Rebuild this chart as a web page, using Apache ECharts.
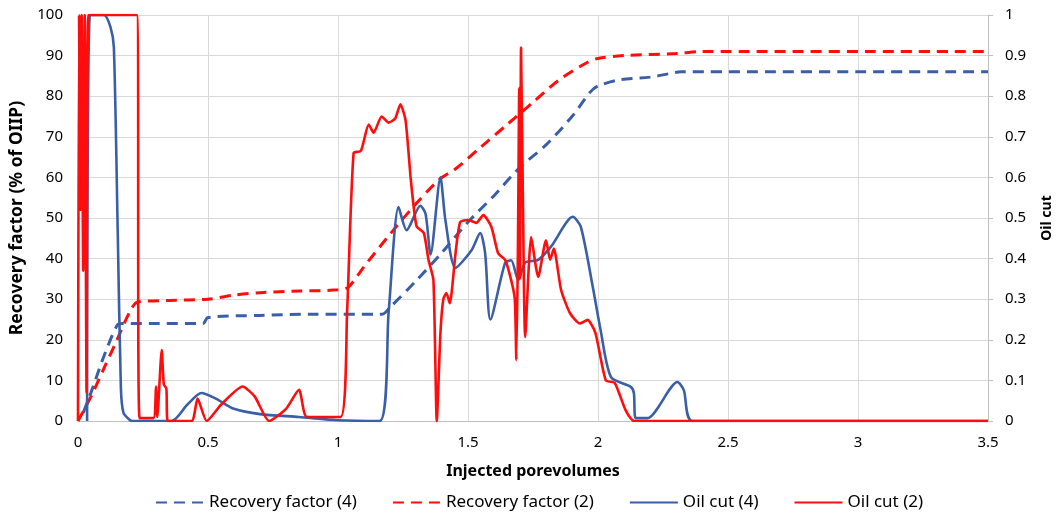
<!DOCTYPE html>
<html>
<head>
<meta charset="utf-8">
<script src="https://cdn.jsdelivr.net/npm/echarts@6/dist/echarts.min.js"></script>
<style>html,body{margin:0;padding:0;background:#fff}#c{width:1062px;height:517px}</style>
</head>
<body>
<div id="c"></div>
<script>
const xTicks = ["0","0.5","1","1.5","2","2.5","3","3.5"];
const leftTicks = ["0","10","20","30","40","50","60","70","80","90","100"];
const rightTicks = ["0","0.1","0.2","0.3","0.4","0.5","0.6","0.7","0.8","0.9","1"];
const seriesNames = ["Recovery factor (4)","Recovery factor (2)","Oil cut (4)","Oil cut (2)"];

const rf4 = [[0.02,2],[0.05,7],[0.1,16],[0.15,23.5],[0.17,24],[0.3,24],[0.48,24],[0.5,25.5],[0.7,26],[0.9,26.3],[1.17,26.3],[1.2,28],[1.3,34.5],[1.4,41.5],[1.5,49],[1.6,55.5],[1.7,62.5],[1.8,68],[1.9,75],[1.97,81],[2.0,82.5],[2.08,84],[2.2,84.7],[2.27,85.5],[2.32,86],[3.5,86]];
const rf2 = [[0,0],[0.05,6],[0.1,13],[0.15,20],[0.2,27],[0.23,29.3],[0.35,29.7],[0.5,30],[0.6,31],[0.7,31.6],[0.85,32],[1.0,32.3],[1.04,33],[1.1,38],[1.2,46],[1.3,53.5],[1.39,59.5],[1.45,62],[1.55,67.5],[1.65,73],[1.75,78.5],[1.85,84],[1.95,88],[2.0,89.3],[2.1,90],[2.3,90.5],[2.4,91],[3.5,91]];
const oc4 = [[0.035,0],[0.046,1],[0.1,1],[0.125,0.97],[0.138,0.92],[0.153,0.46],[0.165,0.08],[0.175,0.02],[0.2,0.002],[0.21,0],[0.36,0],[0.42,0.04],[0.475,0.069],[0.53,0.055],[0.6,0.03],[0.7,0.017],[0.85,0.01],[1.0,0.002],[1.16,0],[1.195,0.27],[1.233,0.527],[1.264,0.47],[1.317,0.53],[1.337,0.51],[1.356,0.41],[1.394,0.6],[1.413,0.495],[1.452,0.377],[1.513,0.42],[1.547,0.463],[1.566,0.413],[1.586,0.25],[1.643,0.39],[1.666,0.396],[1.693,0.347],[1.72,0.39],[1.77,0.397],[1.82,0.43],[1.903,0.503],[1.934,0.478],[1.98,0.33],[2.01,0.224],[2.05,0.108],[2.126,0.084],[2.138,0.069],[2.145,0.007],[2.19,0.007],[2.306,0.096],[2.33,0.076],[2.363,0],[3.5,0]];
const oc2 = [[0,0],[0.004,1],[0.009,0.52],[0.014,1],[0.02,0.37],[0.026,1],[0.033,0.07],[0.04,1],[0.226,1],[0.237,0.007],[0.29,0.007],[0.3,0.085],[0.305,0.01],[0.322,0.175],[0.33,0.09],[0.34,0.08],[0.345,0],[0.437,0],[0.46,0.055],[0.495,0],[0.55,0.04],[0.633,0.085],[0.68,0.06],[0.735,0],[0.8,0.03],[0.85,0.077],[0.88,0.01],[1.01,0.01],[1.035,0.27],[1.06,0.66],[1.088,0.665],[1.118,0.73],[1.137,0.71],[1.168,0.75],[1.195,0.735],[1.22,0.745],[1.24,0.78],[1.26,0.74],[1.28,0.595],[1.302,0.48],[1.33,0.463],[1.348,0.397],[1.367,0.347],[1.38,0],[1.394,0.217],[1.405,0.3],[1.417,0.315],[1.43,0.29],[1.452,0.413],[1.47,0.49],[1.5,0.495],[1.532,0.488],[1.559,0.507],[1.59,0.478],[1.616,0.413],[1.643,0.397],[1.666,0.347],[1.68,0.3],[1.686,0.15],[1.692,0.42],[1.697,0.82],[1.7,0.35],[1.704,0.92],[1.712,0.5],[1.72,0.207],[1.743,0.453],[1.77,0.355],[1.8,0.445],[1.816,0.397],[1.83,0.425],[1.858,0.323],[1.892,0.266],[1.93,0.24],[1.96,0.249],[1.99,0.217],[2.03,0.1],[2.064,0.094],[2.106,0.027],[2.14,0],[3.5,0]];

const BLUE = '#3A5FA6', RED = '#FF0D0D';
const font = 'Noto Sans';
const chart = echarts.init(document.getElementById('c'), null, {renderer:'canvas'});
chart.setOption({
  animation:false,
  textStyle:{fontFamily:font},
  grid:{left:78,right:70,top:15,bottom:96},
  legend:{
    top:489, left:150, itemWidth:48, itemHeight:14, itemGap:35,
    itemStyle:{opacity:0},
    textStyle:{fontSize:17, color:'#000', fontFamily:font},
    data:seriesNames
  },
  xAxis:{
    type:'value', min:0, max:3.5, interval:0.5,
    name:'Injected porevolumes', nameLocation:'middle', nameGap:42,
    nameTextStyle:{fontWeight:'bold', fontSize:16, color:'#000'},
    axisLine:{show:true, lineStyle:{color:'#bfbfbf'}},
    axisTick:{show:false},
    axisLabel:{color:'#000', fontSize:15, margin:14, formatter:(v)=>xTicks[Math.round(v/0.5)]},
    splitLine:{show:true, lineStyle:{color:'#d9d9d9', width:1}}
  },
  yAxis:[{
    type:'value', min:0, max:100, interval:10, position:'left',
    name:'Recovery factor (% of OIIP)', nameLocation:'middle', nameGap:50, nameRotate:90,
    nameTextStyle:{fontWeight:'bold', fontSize:17.5, color:'#000'},
    axisLine:{show:true, lineStyle:{color:'#bfbfbf'}},
    axisTick:{show:false},
    axisLabel:{color:'#000', fontSize:15, margin:15, formatter:(v)=>leftTicks[Math.round(v/10)]},
    splitLine:{show:true, lineStyle:{color:'#d9d9d9', width:1}}
  },{
    type:'value', min:0, max:1, interval:0.1, position:'right',
    name:'Oil cut', nameLocation:'middle', nameGap:52, nameRotate:90,
    nameTextStyle:{fontWeight:'bold', fontSize:14, color:'#000'},
    axisLine:{show:true, lineStyle:{color:'#bfbfbf'}},
    axisTick:{show:true, length:5, lineStyle:{color:'#bfbfbf'}},
    axisLabel:{color:'#000', fontSize:15, margin:17, formatter:(v)=>rightTicks[Math.round(v*10)]},
    splitLine:{show:false}
  }],
  series:[
    {name:seriesNames[0], type:'line', yAxisIndex:0, data:rf4, symbol:'none', smooth:0.3, z:3,
     lineStyle:{color:BLUE, width:3, type:[11,7]}, itemStyle:{color:BLUE}},
    {name:seriesNames[1], type:'line', yAxisIndex:0, data:rf2, symbol:'none', smooth:0.3, z:3,
     lineStyle:{color:RED, width:3, type:[11,7]}, itemStyle:{color:RED}},
    {name:seriesNames[2], type:'line', yAxisIndex:1, data:oc4, symbol:'none', smooth:0.25, z:4,
     lineStyle:{color:BLUE, width:2.6}, itemStyle:{color:BLUE}},
    {name:seriesNames[3], type:'line', yAxisIndex:1, data:oc2, symbol:'none', smooth:0.2, z:5,
     lineStyle:{color:RED, width:2.6}, itemStyle:{color:RED}}
  ]
});
</script>
</body>
</html>
